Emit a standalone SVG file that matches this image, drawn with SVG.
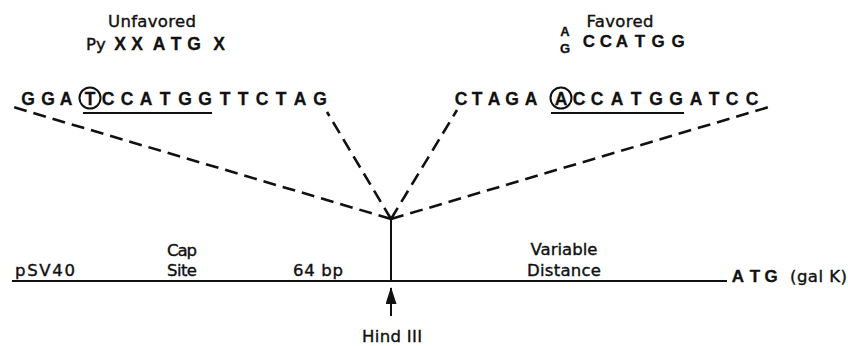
<svg xmlns="http://www.w3.org/2000/svg" width="848" height="346" viewBox="0 0 848 346">
  <style>
    text { font-family: "Liberation Sans", Arial, sans-serif; fill: #111; }
    .lbl { font-family: "DejaVu Sans", "Liberation Sans", sans-serif; font-size: 16.5px; stroke: #111; stroke-width: 0.4; }
    .seq { font-size: 17.5px; font-weight: bold; text-anchor: middle; stroke: #111; stroke-width: 0.3; }
    .mid { text-anchor: middle; }
    .dash { stroke: #111; stroke-width: 2.6; fill: none; stroke-dasharray: 13 7; }
    .solid { stroke: #111; stroke-width: 2; fill: none; }
  </style>
  <defs>
    <!-- solid triangular head, pointing along the line direction -->
    <marker id="arrowhead" viewBox="0 0 17 11" refX="16" refY="5.5" markerWidth="17" markerHeight="11" markerUnits="userSpaceOnUse" orient="auto">
      <path d="M0,0 L17,5.5 L0,11 Z" fill="#111"/>
    </marker>
  </defs>

  <rect width="848" height="346" fill="#fff"/>

  <!-- consensus labels -->
  <g id="unfavored">
    <text class="lbl mid" x="152" y="27" textLength="88">Unfavored</text>
    <text class="lbl" x="86" y="50">Py</text>
    <text class="seq" x="120 137 159 176 194 219" y="50">XXATGX</text>
  </g>
  <g id="favored">
    <text class="lbl mid" x="620" y="27" textLength="67">Favored</text>
    <text class="seq" style="font-size:13px" x="565" y="36">A</text>
    <text class="seq" style="font-size:13px" x="565" y="53">G</text>
    <text class="seq" style="font-size:17px" x="589 606 622 640 658 678" y="47">CCATGG</text>
  </g>

  <!-- inserted linker sequences -->
  <g id="seq-left">
    <text class="seq" x="28 48 66 90 108 127 146 165 185 205 225 243 262 281 300 320" y="105">GGATCCATGGTTCTAG</text>
    <circle cx="90" cy="98" r="10.5" class="solid" stroke-width="1.8"/>
    <line x1="83" y1="113" x2="212" y2="113" class="solid"/>
  </g>
  <g id="seq-right">
    <text class="seq" x="461 477 494 512 531 561 579 597 617 636 656 676 696 714 732 752" y="105">CTAGAACCATGGATCC</text>
    <circle cx="561" cy="98" r="10.5" class="solid" stroke-width="1.8"/>
    <line x1="551" y1="113" x2="684" y2="113" class="solid"/>
  </g>

  <!-- vector map -->
  <g id="vector">
    <line x1="12" y1="281" x2="727" y2="281" class="solid"/>
    <text class="lbl" x="15" y="276" textLength="60">pSV40</text>
    <text class="lbl mid" x="182" y="256" textLength="30">Cap</text>
    <text class="lbl mid" x="182" y="276" textLength="30">Site</text>
    <text class="lbl mid" x="318" y="276" textLength="50">64 bp</text>
    <text class="lbl mid" x="564" y="255" textLength="67">Variable</text>
    <text class="lbl mid" x="564" y="276" textLength="74">Distance</text>
    <text class="seq" style="font-size:17px" x="738 755 771" y="282">ATG</text>
    <text class="lbl" x="790" y="282" textLength="57">(gal K)</text>
  </g>
  <g id="hind3">
    <text class="lbl mid" x="392" y="342" textLength="60">Hind III</text>
  </g>

  <!-- connectors -->
  <g id="connectors">
    <line x1="391" y1="219" x2="391" y2="281" class="solid"/>
    <path d="M391,219 L13,107" class="dash"/>
    <path d="M391,219 L327,112" class="dash"/>
    <path d="M391,219 L457,110" class="dash"/>
    <path d="M391,219 L769,107" class="dash"/>
    <line x1="391" y1="316" x2="391" y2="288" class="solid" stroke-width="2.6" marker-end="url(#arrowhead)"/>
  </g>
</svg>
